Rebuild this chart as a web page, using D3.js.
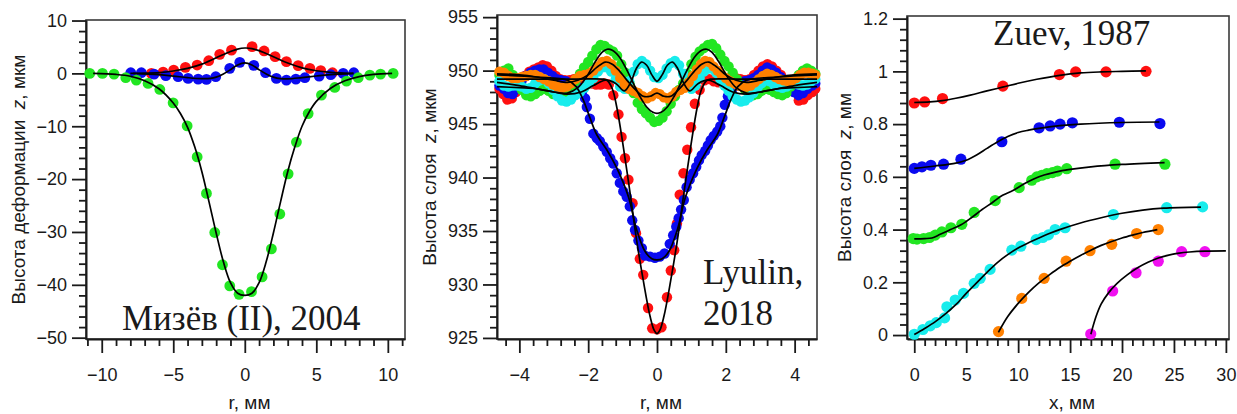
<!DOCTYPE html>
<html>
<head>
<meta charset="utf-8">
<script src="https://cdn.jsdelivr.net/npm/d3@7"></script>
<style>
  body { margin: 0; background: #fff; }
  text { fill: #1a1a1a; }
  .tick text { font-family: "Liberation Sans", Arial, sans-serif; font-size: 18px; }
  .axis-title { font-family: "Liberation Sans", Arial, sans-serif; font-size: 19px; white-space: pre; }
  .note { font-family: "Liberation Serif", "Times New Roman", serif; font-size: 35px; }
</style>
</head>
<body>
<div id="chart"></div>
<script>
// ---------- Panel 1: Мизёв (II), 2004 ----------
var mizevRed = [[-6.53,0],[-5.71,0.25],[-4.97,0.63],[-4.15,1.14],[-3.33,1.58],[-2.52,2.4],[-1.75,3.6],[-0.93,4.4],
  [0.51,5.06],[1.35,4.24],[2.12,3.16],[2.91,2.22],[3.73,1.46],[4.55,0.95],[5.31,0.51],[6.13,0.13]];
var mizevRedFit = [[-8,0],[-7,0.05],[-6,0.15],[-5,0.45],[-4,0.95],[-3,1.75],[-2,2.95],[-1,4.15],[-0.5,4.6],[0,4.8],
  [0.5,4.7],[1,4.3],[2,3.15],[3,1.95],[4,1.05],[5,0.5],[6,0.2],[7,0.05],[7.6,0]];
var mizevBlue = [[-7.97,0.13],[-7.23,0.13],[-6.34,-0.13],[-5.52,-0.44],[-4.66,-0.63],[-3.96,-0.95],[-3.26,-1.08],
  [-2.68,-1.14],[-2.03,-0.63],[-1.05,0.95],[-0.35,2.09],[0.63,1.52],[1.45,0.13],[2.21,-0.95],[2.91,-1.27],
  [3.57,-1.08],[4.2,-0.82],[5.2,-0.51],[6.01,-0.25],[6.88,0],[7.62,0.13]];
var mizevBlueFit = [[-7.8,0],[-6,-0.25],[-5,-0.5],[-4,-0.8],[-3,-1.0],[-2.4,-0.95],[-2,-0.7],[-1.5,-0.1],[-1,0.7],
  [-0.5,1.6],[0,2.0],[0.5,1.6],[1,0.7],[1.5,-0.1],[2,-0.7],[2.5,-1.0],[3,-1.05],[4,-0.8],[5,-0.5],[6,-0.25],[7.6,0]];
var mizevGreen = [[-10.84,0],[-9.95,0],[-9.14,-0.13],[-8.32,-0.82],[-7.58,-1.27],[-6.76,-1.9],[-5.94,-3.04],
  [-5.01,-5.57],[-4.03,-9.94],[-3.33,-15.8],[-2.68,-22.7],[-2.1,-30.1],[-1.56,-36.2],[-1.05,-40.2],[-0.4,-41.8],
  [0.47,-41.3],[1.21,-38.5],[1.86,-33.2],[2.45,-26.6],[3.03,-19.0],[3.61,-13.0],[4.43,-7.6],[5.36,-4.1],
  [6.29,-2.66],[7.11,-1.46],[7.93,-0.82],[8.74,-0.32],[9.49,-0.13],[10.37,0]];
var mizevGreenFit = [[-10.6,0],[-9,-0.2],[-8,-0.55],[-7,-1.4],[-6,-2.9],[-5,-5.6],[-4.5,-7.6],[-4,-10.2],[-3.5,-13.9],
  [-3,-18.6],[-2.5,-24.3],[-2,-30.2],[-1.5,-35.6],[-1,-39.6],[-0.5,-41.6],[0,-42.0],[0.5,-41.6],[1,-39.6],[1.5,-35.6],
  [2,-30.2],[2.5,-24.3],[3,-18.6],[3.5,-13.9],[4,-10.0],[4.5,-7.3],[5,-5.3],[6,-2.8],[7,-1.4],[8,-0.6],[9,-0.2],[10.3,0]];
var mizevXTicks = [-10, -5, 0, 5, 10];
var mizevXLabels = ["\u221210", "\u22125", "0", "5", "10"];
var mizevYTicks = [-50, -40, -30, -20, -10, 0, 10];
var mizevYLabels = ["\u221250", "\u221240", "\u221230", "\u221220", "\u221210", "0", "10"];

// ---------- Panel 2: Lyulin, 2018 ----------
var lyulinRed = [[-4.58,948.3],[-4.47,947.8],[-4.35,947.3],[-4.22,947.4],[-4.1,948.0],[-3.97,948.8],[-3.84,949.5],
  [-3.71,949.9],[-3.58,950.1],[-3.45,950.3],[-3.32,950.5],[-3.2,950.4],[-3.07,950.0],[-2.94,949.5],[-2.81,949.2],
  [-2.68,949.1],[-2.55,949.1],[-2.42,949.2],[-2.29,949.3],[-2.16,949.2],[-2.03,949.0],[-1.9,948.8],[-1.77,948.7],
  [-1.64,948.7],[-1.52,948.8],[-1.4,948.7],[-1.27,947.7],[-1.12,945.9],[-1.03,943.8],[-0.93,941.8],[-0.83,939.8],
  [-0.71,937.6],[-0.61,934.8],[-0.5,932.4],[-0.4,930.9],[-0.26,927.8],[-0.14,925.9],[0.0,925.8],[0.13,926.0],
  [0.29,928.8],[0.4,931.3],[0.5,933.2],[0.58,935.7],[0.66,938.4],[0.77,940.4],[0.88,942.6],[0.99,944.7],
  [1.1,946.9],[1.24,948.2],[1.38,949.1],[1.52,949.2],[1.65,949.0],[1.78,948.9],[1.91,949.0],[2.04,949.2],
  [2.17,949.4],[2.3,949.3],[2.43,949.2],[2.56,949.1],[2.69,949.2],[2.82,949.6],[2.95,950.0],[3.08,950.4],
  [3.21,950.6],[3.34,950.4],[3.47,950.0],[3.6,949.6],[3.73,949.1],[3.86,948.7],[3.99,948.0],[4.12,947.2],
  [4.25,947.3],[4.38,947.7],[4.51,948.0],[4.6,948.3]];
var lyulinRedFit = [[-4.65,949.2],[-2.5,949.2],[-1.55,949.2],[-1.45,949.1],[-1.3,948.3],[-1.17,946.6],[-0.98,942.9],
  [-0.78,938.5],[-0.59,934.1],[-0.4,930.4],[-0.2,927.0],[-0.08,925.7],[0,925.4],[0.08,925.7],[0.2,927.0],[0.4,930.4],
  [0.59,934.1],[0.78,938.5],[0.98,942.9],[1.17,946.6],[1.3,948.3],[1.45,949.1],[1.55,949.2],[2.5,949.2],[4.65,949.2]];
var lyulinBlue = [[-4.58,948.6],[-4.45,948.3],[-4.33,947.9],[-4.2,947.8],[-4.07,948.3],[-3.94,949.0],[-3.81,949.5],
  [-3.68,949.8],[-3.55,950.0],[-3.42,950.1],[-3.3,950.1],[-3.17,949.8],[-3.04,949.5],[-2.91,949.2],[-2.78,949.1],
  [-2.65,949.0],[-2.52,948.8],[-2.4,948.6],[-2.28,948.4],[-2.18,948.0],[-2.09,947.4],[-2.04,946.6],[-1.95,945.5],
  [-1.85,944.1],[-1.75,943.7],[-1.66,943.4],[-1.56,942.9],[-1.46,942.4],[-1.36,941.8],[-1.27,941.3],[-1.17,940.4],
  [-1.08,939.5],[-0.98,938.7],[-0.88,938.2],[-0.79,937.3],[-0.72,936.0],[-0.64,935.1],[-0.54,934.1],[-0.44,933.4],
  [-0.35,932.7],[-0.2,932.6],[-0.06,932.5],[0.08,932.6],[0.22,932.9],[0.37,933.8],[0.47,934.6],[0.56,935.4],
  [0.63,936.2],[0.7,937.0],[0.78,937.9],[0.86,939.1],[0.95,939.8],[1.05,940.4],[1.14,941.0],[1.22,941.6],
  [1.3,942.1],[1.4,942.5],[1.48,943.0],[1.56,943.5],[1.65,943.9],[1.75,944.3],[1.84,944.8],[1.9,945.6],
  [1.97,946.8],[2.06,947.6],[2.18,948.2],[2.3,948.6],[2.42,948.8],[2.55,949.0],[2.68,949.1],[2.81,949.3],
  [2.94,949.6],[3.07,950.0],[3.2,950.3],[3.33,950.1],[3.46,949.8],[3.59,949.4],[3.72,948.9],[3.85,948.4],
  [3.98,948.0],[4.11,947.7],[4.24,947.9],[4.37,948.3],[4.5,948.6],[4.6,948.8]];
var lyulinBlueFit = [[-4.65,949.6],[-3.5,949.4],[-2.6,949.1],[-2.35,948.5],[-2.15,947.3],[-1.95,945.6],[-1.75,944.0],
  [-1.46,942.6],[-1.17,940.9],[-0.83,938.2],[-0.59,935.1],[-0.35,933.1],[-0.15,932.4],[0,932.3],[0.15,932.4],
  [0.35,933.1],[0.59,935.1],[0.83,938.2],[1.17,940.9],[1.46,942.6],[1.75,944.0],[1.95,945.6],[2.15,947.3],
  [2.35,948.5],[2.6,949.1],[3.5,949.4],[4.65,949.6]];
var lyulinGreen = [[-4.58,949.6],[-4.45,950.0],[-4.32,950.2],[-4.19,949.6],[-4.06,948.9],[-3.93,948.2],[-3.8,947.7],
  [-3.67,947.6],[-3.54,947.8],[-3.41,948.1],[-3.28,948.3],[-3.15,948.1],[-3.02,947.8],[-2.89,947.7],[-2.76,947.8],
  [-2.63,948.0],[-2.5,948.4],[-2.37,949.0],[-2.24,949.7],[-2.12,950.3],[-2.0,950.8],[-1.88,951.4],[-1.76,952.0],
  [-1.64,952.4],[-1.52,952.3],[-1.4,952.0],[-1.28,951.8],[-1.16,951.4],[-1.04,950.6],[-0.92,949.8],[-0.8,948.8],
  [-0.68,947.9],[-0.56,947.0],[-0.44,946.4],[-0.32,946.0],[-0.2,945.6],[-0.08,945.2],[0.04,945.3],[0.16,945.6],
  [0.28,946.2],[0.4,946.9],[0.52,947.6],[0.64,948.2],[0.76,948.8],[0.88,949.7],[1.0,950.6],[1.12,951.3],
  [1.24,951.8],[1.36,952.1],[1.48,952.4],[1.6,952.5],[1.72,952.1],[1.84,951.5],[1.96,950.9],[2.08,950.4],
  [2.2,949.8],[2.32,949.2],[2.44,948.6],[2.56,948.2],[2.68,947.9],[2.8,947.7],[2.92,947.8],[3.04,948.1],
  [3.16,948.3],[3.28,948.2],[3.4,948.0],[3.52,947.8],[3.64,947.7],[3.76,947.9],[3.88,948.5],[4.0,949.1],
  [4.12,949.6],[4.24,950.0],[4.36,950.2],[4.48,950.0],[4.6,949.7]];
var lyulinGreenFit = [[-4.65,948.9],[-4.0,948.6],[-3.5,948.3],[-3.0,948.0],[-2.6,947.9],[-2.3,948.4],[-2.05,949.4],
  [-1.8,950.8],[-1.6,951.7],[-1.45,952.0],[-1.3,951.9],[-1.1,951.3],[-0.9,950.2],[-0.7,948.9],[-0.5,947.6],
  [-0.3,946.6],[-0.12,946.1],[0,946.0],[0.12,946.1],[0.3,946.6],[0.5,947.6],[0.7,948.9],[0.9,950.2],[1.1,951.3],
  [1.3,951.9],[1.45,952.0],[1.6,951.7],[1.8,950.8],[2.05,949.4],[2.3,948.4],[2.6,947.9],[3.0,948.0],[3.5,948.3],
  [4.0,948.6],[4.65,948.9]];
var lyulinCyan = [[-4.58,949.0],[-4.45,948.6],[-4.32,948.5],[-4.19,948.6],[-4.06,948.6],[-3.93,948.5],[-3.8,948.3],
  [-3.67,948.4],[-3.54,948.8],[-3.41,949.1],[-3.28,949.2],[-3.15,948.8],[-3.02,948.2],[-2.89,947.6],[-2.76,947.2],
  [-2.63,947.1],[-2.5,947.3],[-2.37,947.7],[-2.24,948.0],[-2.11,948.4],[-1.98,948.8],[-1.85,949.3],[-1.72,949.9],
  [-1.59,950.3],[-1.46,950.3],[-1.33,949.9],[-1.2,949.2],[-1.07,948.5],[-0.94,948.3],[-0.81,949.0],[-0.68,949.9],
  [-0.56,950.6],[-0.44,950.9],[-0.32,950.6],[-0.2,950.0],[-0.08,949.4],[0.04,949.3],[0.16,949.6],[0.28,950.2],
  [0.4,950.7],[0.52,950.9],[0.64,950.5],[0.76,949.7],[0.88,948.8],[1.0,948.3],[1.12,948.6],[1.24,949.3],
  [1.36,949.9],[1.48,950.2],[1.6,950.2],[1.72,949.8],[1.84,949.2],[1.96,948.6],[2.08,948.1],[2.2,947.6],
  [2.32,947.3],[2.44,947.1],[2.56,947.2],[2.68,947.5],[2.8,947.9],[2.92,948.4],[3.04,948.8],[3.16,949.1],
  [3.28,949.0],[3.4,948.7],[3.52,948.5],[3.64,948.4],[3.76,948.5],[3.88,948.7],[4.0,948.8],[4.12,948.7],
  [4.24,948.6],[4.36,948.7],[4.48,949.0],[4.6,949.2]];
var lyulinCyanFit = [[-4.65,948.5],[-4.0,948.4],[-3.5,948.3],[-3.0,948.0],[-2.6,947.8],[-2.2,948.0],[-1.85,948.6],
  [-1.5,949.1],[-1.2,948.8],[-0.95,948.1],[-0.75,949.0],[-0.6,950.2],[-0.45,950.8],[-0.3,950.5],[-0.15,949.6],
  [0,949.0],[0.15,949.6],[0.3,950.5],[0.45,950.8],[0.6,950.2],[0.75,949.0],[0.95,948.1],[1.2,948.8],[1.5,949.1],
  [1.85,948.6],[2.2,948.0],[2.6,947.8],[3.0,948.0],[3.5,948.3],[4.0,948.4],[4.65,948.5]];
var lyulinOrange = [[-4.58,949.9],[-4.45,949.8],[-4.32,949.5],[-4.19,949.3],[-4.06,949.3],[-3.93,949.4],[-3.8,949.5],
  [-3.67,949.6],[-3.54,949.6],[-3.41,949.4],[-3.28,949.2],[-3.15,949.0],[-3.02,948.7],[-2.89,948.5],[-2.76,948.4],
  [-2.63,948.5],[-2.5,948.8],[-2.37,949.2],[-2.24,949.5],[-2.11,949.6],[-1.98,949.7],[-1.85,950.0],[-1.72,950.4],
  [-1.59,950.8],[-1.46,950.9],[-1.33,950.6],[-1.2,950.0],[-1.07,949.3],[-0.94,948.7],[-0.81,948.3],[-0.68,948.1],
  [-0.55,947.9],[-0.42,947.6],[-0.29,947.4],[-0.16,947.6],[-0.04,947.9],[0.08,947.8],[0.2,947.5],[0.32,947.4],
  [0.44,947.6],[0.56,948.0],[0.68,948.2],[0.8,948.4],[0.92,948.9],[1.04,949.5],[1.16,950.1],[1.28,950.6],
  [1.4,950.9],[1.52,950.8],[1.64,950.4],[1.76,950.0],[1.88,949.6],[2.0,949.3],[2.12,949.0],[2.24,948.8],
  [2.36,948.6],[2.48,948.5],[2.6,948.5],[2.72,948.6],[2.84,948.9],[2.96,949.2],[3.08,949.5],[3.2,949.7],
  [3.32,949.6],[3.44,949.4],[3.56,949.2],[3.68,949.1],[3.8,949.0],[3.92,949.1],[4.04,949.3],[4.16,949.6],
  [4.28,949.8],[4.4,949.8],[4.52,949.7],[4.6,949.6]];
var lyulinOrangeFit = [[-4.65,949.7],[-4.0,949.6],[-3.5,949.4],[-3.0,949.1],[-2.6,948.9],[-2.3,949.1],[-2.0,949.6],
  [-1.75,950.3],[-1.5,950.8],[-1.3,950.6],[-1.1,950.0],[-0.9,949.2],[-0.65,948.3],[-0.4,947.6],[-0.2,947.6],
  [0,947.9],[0.2,947.6],[0.4,947.6],[0.65,948.3],[0.9,949.2],[1.1,950.0],[1.3,950.6],[1.5,950.8],[1.75,950.3],
  [2.0,949.6],[2.3,949.1],[2.6,948.9],[3.0,949.1],[3.5,949.4],[4.0,949.6],[4.65,949.7]];
var lyulinXTicks = [-4, -2, 0, 2, 4];
var lyulinXLabels = ["\u22124", "\u22122", "0", "2", "4"];
var lyulinYTicks = [925, 930, 935, 940, 945, 950, 955];
var lyulinYLabels = ["925", "930", "935", "940", "945", "950", "955"];

// ---------- Panel 3: Zuev, 1987 ----------
var zuevRed = [[0,0.88],[1.0,0.884],[2.72,0.897],[8.53,0.944],[13.97,0.988],[15.54,0.998],[18.46,0.998],[22.31,1.0]];
var zuevRedFit = [[0,0.882],[1.5,0.884],[2.7,0.889],[4,0.898],[5.4,0.91],[7,0.926],[8.5,0.94],[10,0.955],[11.8,0.97],
  [14,0.985],[16,0.994],[18,0.998],[20,1.0],[22.3,1.002]];
var zuevBlue = [[0,0.632],[0.74,0.638],[1.6,0.644],[2.82,0.648],[4.49,0.667],[8.43,0.733],[12.02,0.786],[13.08,0.793],
  [14.04,0.8],[15.22,0.805],[19.74,0.807],[23.65,0.802]];
var zuevBlueFit = [[0,0.632],[2,0.641],[4,0.652],[5,0.663],[6,0.683],[7,0.708],[8,0.732],[9,0.753],[10,0.768],
  [11,0.777],[12,0.784],[14,0.794],[16,0.8],[20,0.806],[23.6,0.808]];
var zuevGreen = [[-0.1,0.366],[0.26,0.364],[0.9,0.366],[1.47,0.37],[2.02,0.379],[2.66,0.391],[3.53,0.407],[4.58,0.42],
  [5.77,0.465],[7.79,0.51],[10.1,0.559],[11.31,0.587],[11.8,0.6],[12.28,0.606],[12.76,0.612],[13.3,0.616],
  [13.78,0.622],[14.68,0.631],[19.33,0.648],[24.13,0.648]];
var zuevGreenFit = [[0,0.365],[1,0.366],[1.7,0.368],[2.5,0.382],[3.5,0.4],[4.5,0.418],[5.5,0.445],[6.5,0.475],
  [7.5,0.502],[8.5,0.53],[9.5,0.548],[10.5,0.572],[11.5,0.592],[12.5,0.607],[13.5,0.617],[15,0.628],[17,0.638],
  [20,0.647],[24.1,0.654]];
var zuevCyan = [[0,0.003],[0.83,0.021],[1.54,0.035],[2.12,0.047],[2.92,0.065],[3.14,0.107],[3.94,0.133],[4.74,0.158],
  [5.77,0.196],[6.35,0.215],[7.3,0.249],[9.39,0.322],[10.26,0.337],[11.73,0.362],[12.37,0.37],[12.92,0.38],
  [13.56,0.4],[14.52,0.407],[19.17,0.457],[24.3,0.483],[27.76,0.486]];
var zuevCyanFit = [[0,0.002],[1,0.025],[2,0.05],[3,0.08],[4,0.115],[5,0.158],[6,0.198],[7,0.238],[8,0.275],[9,0.305],
  [10,0.33],[11,0.35],[12,0.368],[13,0.385],[14,0.4],[16,0.425],[18,0.445],[20,0.462],[22,0.474],[24,0.481],[27.6,0.485]];
var zuevOrange = [[8.11,0.013],[10.35,0.139],[12.5,0.215],[14.62,0.28],[16.92,0.32],[19.01,0.344],[21.41,0.385],[23.49,0.4]];
var zuevOrangeFit = [[8.1,0.01],[9,0.07],[10,0.12],[11,0.162],[12,0.198],[13,0.228],[14,0.256],[15,0.28],[16,0.302],
  [17,0.322],[18,0.34],[19,0.355],[20,0.368],[21,0.379],[22,0.389],[23.4,0.4]];
var zuevMagenta = [[16.99,0.004],[19.1,0.167],[21.35,0.236],[23.49,0.28],[25.74,0.316],[27.98,0.316]];
var zuevMagentaFit = [[17,0.003],[17.5,0.07],[18,0.118],[18.7,0.16],[19.5,0.195],[20.5,0.228],[21.5,0.255],[22.5,0.276],
  [23.5,0.292],[24.5,0.303],[25.5,0.311],[26.5,0.315],[28,0.318],[30,0.319]];
var zuevXTicks = [0, 5, 10, 15, 20, 25, 30];
var zuevXLabels = ["0", "5", "10", "15", "20", "25", "30"];
var zuevYTicks = [0, 0.2, 0.4, 0.6, 0.8, 1, 1.2];
var zuevYLabels = ["0", "0.2", "0.4", "0.6", "0.8", "1", "1.2"];

var RED = "#ff1010", BLUE = "#0a0af0", GREEN = "#22e622", CYAN = "#18ecec", ORANGE = "#ff8000", MAGENTA = "#f010f0";

var svgWidth = 1237;
var svgHeight = 414;

var svg = d3.select("#chart")
  .append("svg")
  .attr("width", svgWidth)
  .attr("height", svgHeight);

function drawPanel(p) {
  var x = d3.scaleLinear().domain(p.xDomain).range([p.left, p.right]);
  var y = d3.scaleLinear().domain(p.yDomain).range([p.bottom, p.top]);

  // frame
  svg.append("rect")
    .attr("x", p.left).attr("y", p.top)
    .attr("width", p.right - p.left).attr("height", p.bottom - p.top)
    .attr("fill", "none").attr("stroke", "#3a3a3a").attr("stroke-width", 1.6);

  // minor ticks
  svg.append("g")
    .attr("transform", `translate(${p.left},0)`)
    .call(d3.axisLeft(y).tickValues(p.yMinor).tickSize(7).tickFormat(""))
    .call(g => g.select(".domain").remove());
  svg.append("g")
    .attr("transform", `translate(0,${p.bottom})`)
    .call(d3.axisBottom(x).tickValues(p.xMinor).tickSize(7).tickFormat(""))
    .call(g => g.select(".domain").remove());

  // major ticks + labels
  svg.append("g")
    .attr("transform", `translate(${p.left},0)`)
    .call(d3.axisLeft(y).tickValues(p.yTicks).tickFormat((d, i) => p.yLabels[i])
      .tickSize(14).tickSizeOuter(0).tickPadding(5));
  svg.append("g")
    .attr("transform", `translate(0,${p.bottom})`)
    .call(d3.axisBottom(x).tickValues(p.xTicks).tickFormat((d, i) => p.xLabels[i])
      .tickSize(14).tickSizeOuter(0).tickPadding(15));

  svg.selectAll(".tick line").attr("stroke", "#1a1a1a").attr("stroke-width", 1.8);
  svg.selectAll(".domain").attr("stroke", "#1a1a1a").attr("stroke-width", 2);
  svg.selectAll(".tick text").attr("fill", "#1a1a1a");

  // data points
  var plot = svg.append("g");
  p.series.forEach(function(s) {
    plot.append("g").selectAll("circle")
      .data(s.points)
      .enter()
      .append("circle")
      .attr("cx", d => x(d[0]))
      .attr("cy", d => y(d[1]))
      .attr("r", p.radius)
      .attr("fill", s.color);
  });

  // fitted curves on top
  var line = d3.line()
    .x(d => x(d[0]))
    .y(d => y(d[1]))
    .curve(d3.curveCatmullRom.alpha(0.5));
  p.series.forEach(function(s) {
    plot.append("path")
      .attr("d", line(s.fit))
      .attr("fill", "none")
      .attr("stroke", "#000")
      .attr("stroke-width", 1.7);
  });

  // axis titles
  svg.append("text")
    .attr("class", "axis-title")
    .attr("x", (p.left + p.right) / 2 + 4)
    .attr("y", 409)
    .attr("text-anchor", "middle")
    .text(p.xTitle);

  var yt = svg.append("text")
    .attr("class", "axis-title")
    .attr("transform", `translate(${p.yTitleX},${(p.top + p.bottom) / 2}) rotate(-90)`)
    .attr("text-anchor", "middle");
  yt.append("tspan").text(p.yTitle[0]);
  yt.append("tspan").attr("font-style", "italic").text("z");
  yt.append("tspan").text(p.yTitle[1]);

  // annotation
  p.note.forEach(function(n) {
    svg.append("text")
      .attr("class", "note")
      .attr("x", n.x)
      .attr("y", n.y)
      .text(n.text);
  });
}

drawPanel({
  left: 86, right: 405, top: 20, bottom: 339,
  xDomain: [-11.1, 11.2], yDomain: [-50.25, 10.1],
  xTicks: mizevXTicks, xLabels: mizevXLabels,
  yTicks: mizevYTicks, yLabels: mizevYLabels,
  xMinor: d3.range(-11, 12).filter(v => v % 5 !== 0),
  yMinor: d3.range(-50, 11, 2).filter(v => v % 10 !== 0),
  radius: 5.4,
  series: [
    {points: mizevRed, fit: mizevRedFit, color: RED},
    {points: mizevBlue, fit: mizevBlueFit, color: BLUE},
    {points: mizevGreen, fit: mizevGreenFit, color: GREEN}
  ],
  xTitle: "r, мм",
  yTitle: ["Высота деформации  ", ", мкм"],
  yTitleX: 25,
  note: [{x: 122, y: 330, text: "Мизёв (II), 2004"}]
});

drawPanel({
  left: 497, right: 817, top: 15, bottom: 339,
  xDomain: [-4.65, 4.65], yDomain: [924.9, 955.2],
  xTicks: lyulinXTicks, xLabels: lyulinXLabels,
  yTicks: lyulinYTicks, yLabels: lyulinYLabels,
  xMinor: d3.range(-11, 12).filter(i => i % 5 !== 0).map(i => i * 0.4),
  yMinor: d3.range(925, 956).filter(v => v % 5 !== 0),
  radius: 5.2,
  series: [
    {points: lyulinRed, fit: lyulinRedFit, color: RED},
    {points: lyulinBlue, fit: lyulinBlueFit, color: BLUE},
    {points: lyulinGreen, fit: lyulinGreenFit, color: GREEN},
    {points: lyulinCyan, fit: lyulinCyanFit, color: CYAN},
    {points: lyulinOrange, fit: lyulinOrangeFit, color: ORANGE}
  ],
  xTitle: "r, мм",
  yTitle: ["Высота слоя  ", ", мкм"],
  yTitleX: 436,
  note: [{x: 703, y: 284, text: "Lyulin,"}, {x: 703, y: 325, text: "2018"}]
});

drawPanel({
  left: 907, right: 1229, top: 16, bottom: 339,
  xDomain: [-0.7, 30.3], yDomain: [-0.015, 1.21],
  xTicks: zuevXTicks, xLabels: zuevXLabels,
  yTicks: zuevYTicks, yLabels: zuevYLabels,
  xMinor: d3.range(0, 31).filter(v => v % 5 !== 0),
  yMinor: d3.range(0, 31).filter(i => i % 5 !== 0).map(i => i * 0.04),
  radius: 5.6,
  series: [
    {points: zuevRed, fit: zuevRedFit, color: RED},
    {points: zuevBlue, fit: zuevBlueFit, color: BLUE},
    {points: zuevGreen, fit: zuevGreenFit, color: GREEN},
    {points: zuevCyan, fit: zuevCyanFit, color: CYAN},
    {points: zuevOrange, fit: zuevOrangeFit, color: ORANGE},
    {points: zuevMagenta, fit: zuevMagentaFit, color: MAGENTA}
  ],
  xTitle: "x, мм",
  yTitle: ["Высота слоя  ", ", мм"],
  yTitleX: 851,
  note: [{x: 993, y: 45, text: "Zuev, 1987"}]
});
</script>
</body>
</html>
